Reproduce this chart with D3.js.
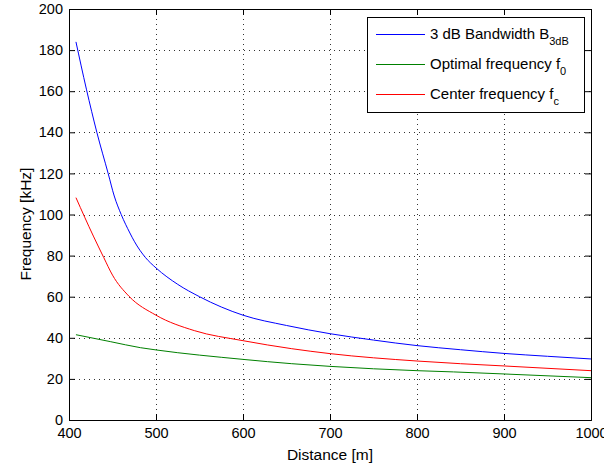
<!DOCTYPE html>
<html>
<head>
<meta charset="utf-8">
<script src="https://cdn.jsdelivr.net/npm/d3@7"></script>
<style>
  body { margin: 0; background: #fff; }
  svg text { font-family: "Liberation Sans", Arial, sans-serif; fill: #000; }
</style>
</head>
<body>
<div id="chart"></div>
<script>
// values
const bwDist = [408, 420, 432, 445, 452, 460, 470, 475, 488, 500, 525, 550, 575, 600, 650, 700, 750, 800, 850, 900, 950, 1000];
const bwFreq = [184, 161, 140, 120, 109, 100, 91, 87, 79, 74, 66, 60, 55, 51, 46, 42, 38.9, 36.2, 34.2, 32.4, 31, 29.7];

const optDist = [408, 448, 482, 500, 600, 656, 700, 800, 842, 900, 1000];
const optFreq = [41.5, 38.1, 35.2, 34.1, 29.5, 27.4, 26.1, 24.0, 23.4, 22.4, 20.6];

const ctrDist = [408, 428, 440, 450, 469, 500, 544, 600, 656, 700, 800, 850, 900, 1000];
const ctrFreq = [108.2, 89.5, 79, 70.5, 60.2, 51, 43.5, 38.6, 34.7, 32.3, 28.7, 27.4, 26.3, 24];

const xTicks = [400, 500, 600, 700, 800, 900, 1000];
const yTicks = [0, 20, 40, 60, 80, 100, 120, 140, 160, 180, 200];

const legendItems = [
  { name: "3 dB Bandwidth B", sub: "3dB", color: "#0000ff" },
  { name: "Optimal frequency f", sub: "0", color: "#008000" },
  { name: "Center frequency f", sub: "c", color: "#ff0000" }
];

const width = 604, height = 470;
const m = { left: 69, right: 591, top: 9, bottom: 420 };

const svg = d3.select("#chart").append("svg")
  .attr("width", width)
  .attr("height", height);

const x = d3.scaleLinear().domain([400, 1000]).range([m.left, m.right]);
const y = d3.scaleLinear().domain([0, 200]).range([m.bottom, m.top]);

// dotted grid
const grid = svg.append("g")
  .attr("stroke", "#333")
  .attr("stroke-width", 1)
  .attr("stroke-dasharray", "1,4");
xTicks.slice(1, -1).forEach(t => {
  grid.append("line")
    .attr("x1", Math.round(x(t)) + 0.5).attr("x2", Math.round(x(t)) + 0.5)
    .attr("y1", m.top).attr("y2", m.bottom);
});
yTicks.slice(1, -1).forEach(t => {
  grid.append("line")
    .attr("x1", m.left).attr("x2", m.right)
    .attr("y1", Math.round(y(t)) + 0.5).attr("y2", Math.round(y(t)) + 0.5);
});

// series
const line = d3.line()
  .x(d => x(d[0]))
  .y(d => y(d[1]))
  .curve(d3.curveMonotoneX);

const series = [
  [bwDist, bwFreq, "#0000ff"],
  [optDist, optFreq, "#008000"],
  [ctrDist, ctrFreq, "#ff0000"]
];
series.forEach(s => {
  svg.append("path")
    .datum(s[0].map((d, i) => [d, s[1][i]]))
    .attr("fill", "none")
    .attr("stroke", s[2])
    .attr("stroke-width", 1)
    .attr("d", line);
});

// axes: ticks pointing inward on all four sides
const tickLen = 6;
const fmt = d3.format("d");
svg.append("g")
  .attr("transform", `translate(0,${m.bottom})`)
  .call(d3.axisBottom(x).tickValues(xTicks).tickSize(-tickLen).tickPadding(8).tickFormat(fmt));
svg.append("g")
  .attr("transform", `translate(0,${m.top})`)
  .call(d3.axisTop(x).tickValues(xTicks).tickSize(-tickLen).tickFormat(""));
svg.append("g")
  .attr("transform", `translate(${m.left},0)`)
  .call(d3.axisLeft(y).tickValues(yTicks).tickSize(-tickLen).tickPadding(6).tickFormat(fmt));
svg.append("g")
  .attr("transform", `translate(${m.right},0)`)
  .call(d3.axisRight(y).tickValues(yTicks).tickSize(-tickLen).tickFormat(""));

svg.selectAll(".domain").attr("stroke", "#000").attr("stroke-width", 1);
svg.selectAll(".tick line").attr("stroke", "#000");
svg.selectAll(".tick text")
  .style("font-family", '"Liberation Sans", Arial, sans-serif')
  .style("font-size", "14.5px")
  .attr("fill", "#000");

// axis labels
svg.append("text")
  .attr("x", (m.left + m.right) / 2)
  .attr("y", 460)
  .attr("text-anchor", "middle")
  .style("font-size", "15.5px")
  .text("Distance [m]");

svg.append("text")
  .attr("transform", "translate(31,224) rotate(-90)")
  .attr("text-anchor", "middle")
  .style("font-size", "15.5px")
  .text("Frequency [kHz]");

// legend
const legend = svg.append("g");
legend.append("rect")
  .attr("x", 367.5).attr("y", 17.5)
  .attr("width", 217).attr("height", 95)
  .attr("fill", "#fff")
  .attr("stroke", "#000");

const rowY = [34, 64, 94];
legendItems.forEach((d, i) => {
  legend.append("line")
    .attr("x1", 376).attr("x2", 425)
    .attr("y1", rowY[i] + 0.5).attr("y2", rowY[i] + 0.5)
    .attr("stroke", d.color);
  const t = legend.append("text")
    .attr("x", 430)
    .attr("y", rowY[i] + 5)
    .style("font-size", "15px");
  t.append("tspan").text(d.name);
  t.append("tspan")
    .attr("dy", 6)
    .style("font-size", "11px")
    .text(d.sub);
});
</script>
</body>
</html>
